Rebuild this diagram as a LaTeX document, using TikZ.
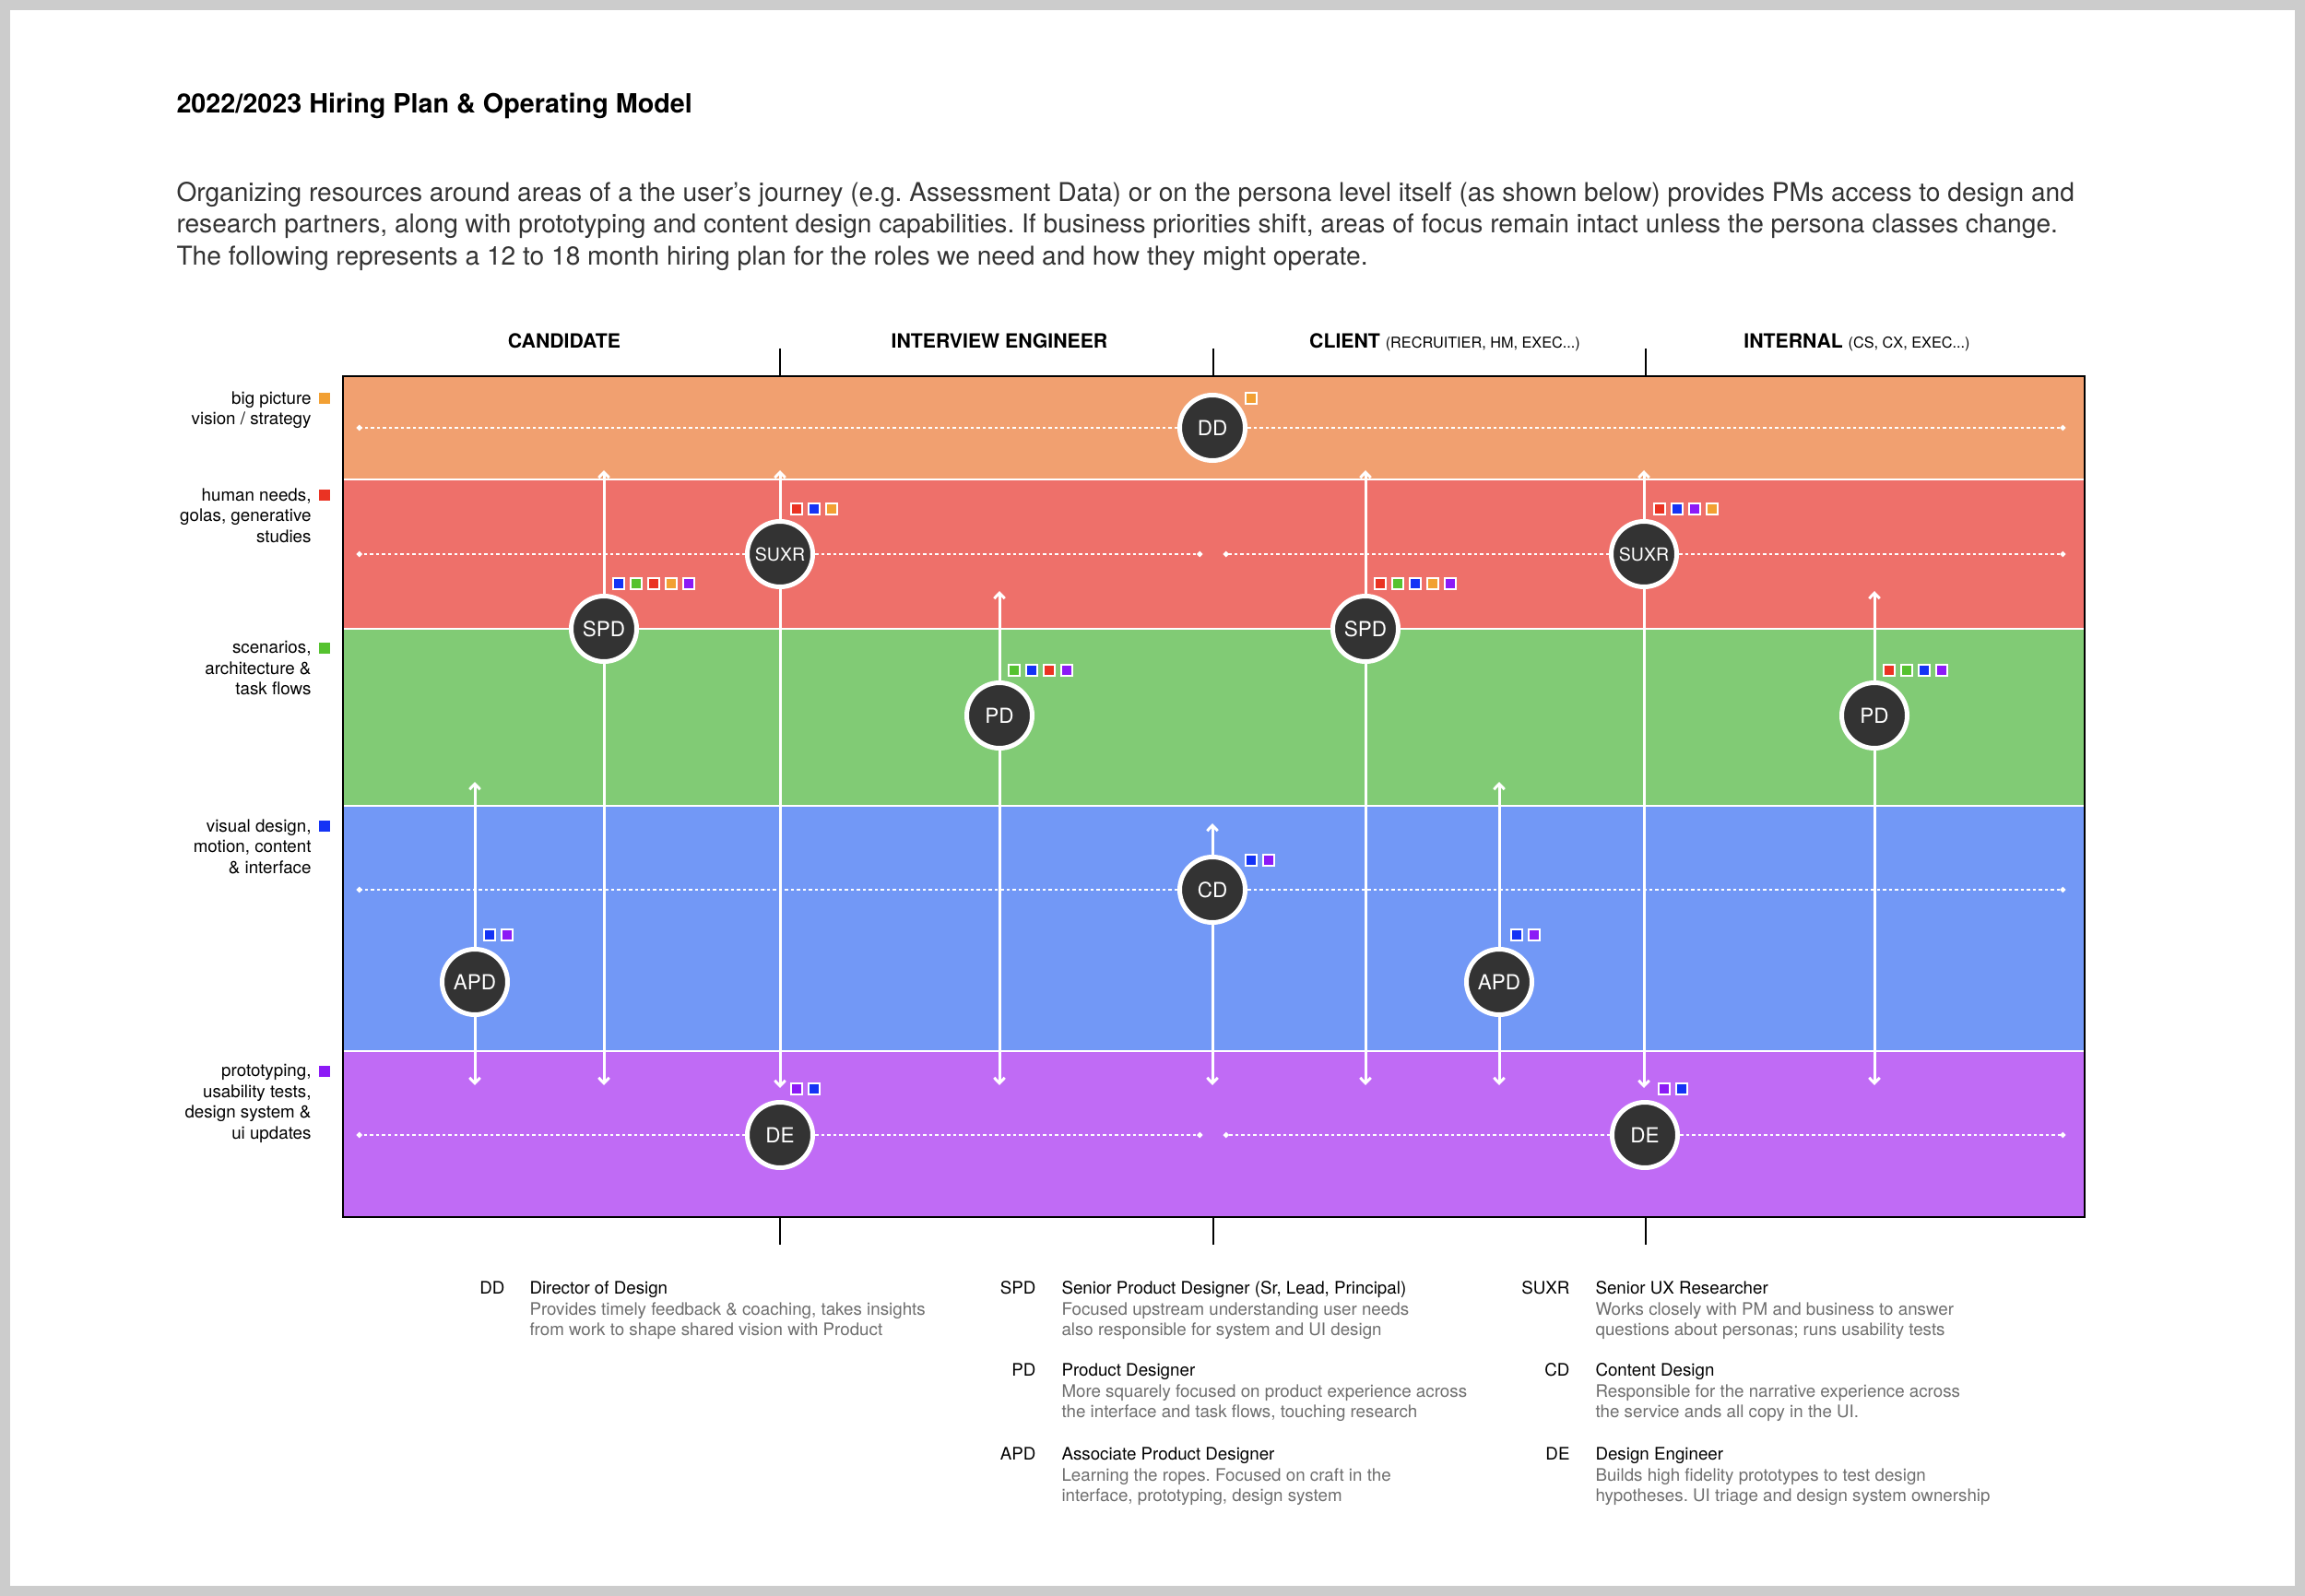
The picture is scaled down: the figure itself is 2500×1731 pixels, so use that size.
\documentclass[tikz,border=0pt]{standalone}
\usepackage{fontspec}
\setmainfont{TeX Gyre Heros}
\usetikzlibrary{arrows.meta}
\frenchspacing
\definecolor{bandO}{HTML}{F1A070}
\definecolor{bandR}{HTML}{EE706A}
\definecolor{bandG}{HTML}{81CB75}
\definecolor{bandB}{HTML}{7298F6}
\definecolor{bandP}{HTML}{C06BF5}
\definecolor{sqO}{HTML}{F2A033}
\definecolor{sqR}{HTML}{EA3323}
\definecolor{sqG}{HTML}{55C22F}
\definecolor{sqB}{HTML}{1433F5}
\definecolor{sqP}{HTML}{8C1AF6}
\definecolor{nodefill}{HTML}{333333}
\definecolor{framegrey}{HTML}{CCCCCC}
\definecolor{bodytext}{HTML}{333333}
\definecolor{desctext}{HTML}{6E6E6E}
\newcommand{\rolemarks}[4]{%
  \foreach \c [count=\i] in {#4} {\node[sq=\c] (#1-\i) at ({#2+19*(\i-1)},#3) {};}}
\begin{document}
\begin{tikzpicture}[x=0.4pt,y=-0.4pt,
  role/.style={circle, fill=nodefill, draw=white, line width=2pt, minimum size=28.4pt, inner sep=0pt, text=white, font=\fontsize{9}{10}\selectfont},
  smallrole/.style={role, font=\fontsize{7.8}{9}\selectfont},
  sq/.style={fill=#1, draw=white, line width=0.7pt, minimum size=4.6pt, inner sep=0pt},
  lsq/.style={fill=#1, minimum size=5pt, inner sep=0pt},
  vline/.style={white, line width=1.2pt, -{Straight Barb[length=2.4pt,width=4.6pt]}},
  dotline/.style={white, line width=1pt, dash pattern=on 1.4pt off 1.2pt, -{Circle[length=2.2pt]}},
  tick/.style={black, line width=0.9pt},
  colhead/.style={anchor=base, font=\fontsize{8.5}{10}\selectfont\bfseries, inner sep=0pt},
  rowlab/.style={anchor=north east, align=right, inner sep=0pt, font=\fontsize{7.5}{9}\selectfont},
  abbr/.style={anchor=base east, inner sep=0pt, font=\fontsize{7.5}{9}\selectfont},
  ltitle/.style={anchor=base west, inner sep=0pt, font=\fontsize{7.5}{9}\selectfont},
  ldesc/.style={anchor=north west, align=left, inner sep=0pt, text=desctext, font=\fontsize{7.5}{8.8}\selectfont}
]
\useasboundingbox (0,0) rectangle (2500,1731);
\fill[framegrey] (0,0) rectangle (2500,1731);
\fill[white] (11,11) rectangle (2489,1720);

% title and intro
\node[anchor=base west, inner sep=0pt, font=\fontsize{11.5}{13}\selectfont\bfseries] (title) at (191,123) {2022/2023 Hiring Plan \& Operating Model};
\node[anchor=north west, align=left, inner sep=0pt, text=bodytext, font=\fontsize{11.25}{13.7}\selectfont] (intro) at (191,197)
 {Organizing resources around areas of a the user’s journey (e.g. Assessment Data) or on the persona level itself (as shown below) provides PMs access to design and\\
  research partners, along with prototyping and content design capabilities. If business priorities shift, areas of focus remain intact unless the persona classes change.\\
  The following represents a 12 to 18 month hiring plan for the roles we need and how they might operate.};

% column headers
\node[colhead] (hcand) at (612,378) {CANDIDATE};
\node[colhead] (hint) at (1084,378) {INTERVIEW ENGINEER};
\node[colhead] (hcli) at (1567,378) {CLIENT {\fontsize{6.5}{8}\selectfont\mdseries (RECRUITIER, HM, EXEC...)}};
\node[colhead] (hintl) at (2014,378) {INTERNAL {\fontsize{6.5}{8}\selectfont\mdseries (CS, CX, EXEC...)}};

% bands
\fill[bandO] (372,408) rectangle (2261,520);
\fill[bandR] (372,520) rectangle (2261,682);
\fill[bandG] (372,682) rectangle (2261,874);
\fill[bandB] (372,874) rectangle (2261,1140);
\fill[bandP] (372,1140) rectangle (2261,1320);
\foreach \yy in {520,682,874,1140} \draw[white, line width=0.9pt] (372,\yy) -- (2261,\yy);
\draw[black, line width=0.9pt] (372,408) rectangle (2261,1320);

% ticks
\foreach \xx in {846,1316,1785} {
  \draw[tick] (\xx,378) -- (\xx,408);
  \draw[tick] (\xx,1320) -- (\xx,1350);
}

% row labels
\node[rowlab] (l1) at (338,424) {big picture\\vision / strategy};
\node[rowlab] (l2) at (338,529) {human needs,\\golas, generative\\studies};
\node[rowlab] (l3) at (338,695) {scenarios,\\architecture \&\\task flows};
\node[rowlab] (l4) at (338,888) {visual design,\\motion, content\\\& interface};
\node[rowlab] (l5) at (338,1154) {prototyping,\\usability tests,\\design system \&\\ui updates};
\node[lsq=sqO] (k1) at (352,432) {};
\node[lsq=sqR] (k2) at (352,537) {};
\node[lsq=sqG] (k3) at (352,703) {};
\node[lsq=sqB] (k4) at (352,896) {};
\node[lsq=sqP] (k5) at (352,1162) {};

% role nodes
\node[role] (dd) at (1315,464) {DD};
\node[smallrole] (suxr1) at (846,601) {SUXR};
\node[role] (spd1) at (655,682) {SPD};
\node[role] (pd1) at (1084,776) {PD};
\node[role] (spd2) at (1481,682) {SPD};
\node[smallrole] (suxr2) at (1783,601) {SUXR};
\node[role] (pd2) at (2033,776) {PD};
\node[role] (cd) at (1315,965) {CD};
\node[role] (apd1) at (515,1065) {APD};
\node[role] (apd2) at (1626,1065) {APD};
\node[role] (de1) at (846,1231) {DE};
\node[role] (de2) at (1784,1231) {DE};

% dotted lane lines
\coordinate (oL) at (387,464); \coordinate (oR) at (2240,464);
\coordinate (rL) at (387,601); \coordinate (rM1) at (1304,601); \coordinate (rM2) at (1327,601); \coordinate (rR) at (2240,601);
\coordinate (bL) at (387,965); \coordinate (bR) at (2240,965);
\coordinate (pL) at (387,1231); \coordinate (pM1) at (1304,1231); \coordinate (pM2) at (1327,1231); \coordinate (pR) at (2240,1231);
\draw[dotline] (dd) -- (oL); \draw[dotline] (dd) -- (oR);
\draw[dotline] (suxr1) -- (rL); \draw[dotline] (suxr1) -- (rM1);
\draw[dotline] (suxr2) -- (rM2); \draw[dotline] (suxr2) -- (rR);
\draw[dotline] (cd) -- (bL); \draw[dotline] (cd) -- (bR);
\draw[dotline] (de1) -- (pL); \draw[dotline] (de1) -- (pM1);
\draw[dotline] (de2) -- (pM2); \draw[dotline] (de2) -- (pR);

% vertical reach arrows
\coordinate (spd1t) at (655,510); \coordinate (spd1b) at (655,1177);
\coordinate (suxr1t) at (846,510); \coordinate (suxr1b) at (846,1180);
\coordinate (pd1t) at (1084,641); \coordinate (pd1b) at (1084,1177);
\coordinate (cdt) at (1315,893); \coordinate (cdb) at (1315,1177);
\coordinate (spd2t) at (1481,510); \coordinate (spd2b) at (1481,1177);
\coordinate (apd2t) at (1626,848); \coordinate (apd2b) at (1626,1177);
\coordinate (suxr2t) at (1783,510); \coordinate (suxr2b) at (1783,1180);
\coordinate (pd2t) at (2033,641); \coordinate (pd2b) at (2033,1177);
\coordinate (apd1t) at (515,848); \coordinate (apd1b) at (515,1177);
\foreach \n in {spd1,suxr1,pd1,cd,spd2,apd2,suxr2,pd2,apd1} {
  \draw[vline] (\n) -- (\n t);
  \draw[vline] (\n) -- (\n b);
}

% capability marks
\rolemarks{mdd}{1357}{432}{sqO}
\rolemarks{msuxr1}{864}{552}{sqR,sqB,sqO}
\rolemarks{mspd1}{671}{633}{sqB,sqG,sqR,sqO,sqP}
\rolemarks{mpd1}{1100}{727}{sqG,sqB,sqR,sqP}
\rolemarks{mspd2}{1497}{633}{sqR,sqG,sqB,sqO,sqP}
\rolemarks{msuxr2}{1800}{552}{sqR,sqB,sqP,sqO}
\rolemarks{mpd2}{2049}{727}{sqR,sqG,sqB,sqP}
\rolemarks{mcd}{1357}{933}{sqB,sqP}
\rolemarks{mapd1}{531}{1014}{sqB,sqP}
\rolemarks{mapd2}{1645}{1014}{sqB,sqP}
\rolemarks{mde1}{864}{1181}{sqP,sqB}
\rolemarks{mde2}{1805}{1181}{sqP,sqB}

% legend
\node[abbr] (aDD) at (548,1403) {DD};
\node[ltitle] (tDD) at (574,1403) {Director of Design};
\node[ldesc] (dDD) at (574,1412) {Provides timely feedback \& coaching, takes insights\\from work to shape shared vision with Product};

\node[abbr] (aSPD) at (1124,1403) {SPD};
\node[ltitle] (tSPD) at (1151,1403) {Senior Product Designer (Sr, Lead, Principal)};
\node[ldesc] (dSPD) at (1151,1412) {Focused upstream understanding user needs\\also responsible for system and UI design};

\node[abbr] (aPD) at (1124,1492) {PD};
\node[ltitle] (tPD) at (1151,1492) {Product Designer};
\node[ldesc] (dPD) at (1151,1501) {More squarely focused on product experience across\\the interface and task flows, touching research};

\node[abbr] (aAPD) at (1124,1583) {APD};
\node[ltitle] (tAPD) at (1151,1583) {Associate Product Designer};
\node[ldesc] (dAPD) at (1151,1592) {Learning the ropes. Focused on craft in the\\interface, prototyping, design system};

\node[abbr] (aSUXR) at (1703,1403) {SUXR};
\node[ltitle] (tSUXR) at (1730,1403) {Senior UX Researcher};
\node[ldesc] (dSUXR) at (1730,1412) {Works closely with PM and business to answer\\questions about personas; runs usability tests};

\node[abbr] (aCD) at (1703,1492) {CD};
\node[ltitle] (tCD) at (1730,1492) {Content Design};
\node[ldesc] (dCD) at (1730,1501) {Responsible for the narrative experience across\\the service ands all copy in the UI.};

\node[abbr] (aDE) at (1703,1583) {DE};
\node[ltitle] (tDE) at (1730,1583) {Design Engineer};
\node[ldesc] (dDE) at (1730,1592) {Builds high fidelity prototypes to test design\\hypotheses. UI triage and design system ownership};
\end{tikzpicture}
\end{document}
